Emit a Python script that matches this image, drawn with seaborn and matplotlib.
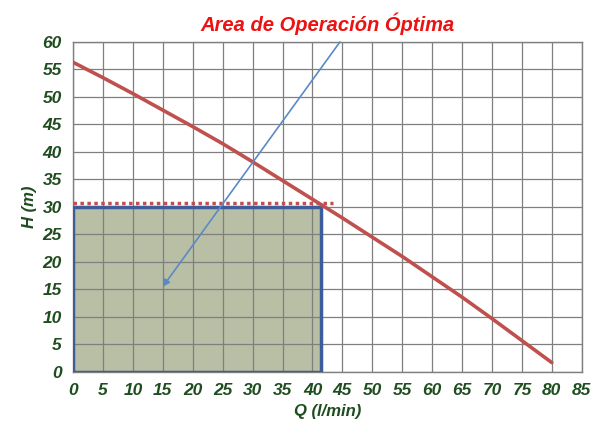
import numpy as np
import pandas as pd
import matplotlib
matplotlib.use("Agg")
import matplotlib.pyplot as plt
import seaborn as sns

# -------------------------
# Data
# -------------------------
q_curve = [0, 5, 10, 15, 20, 25, 30, 35, 40, 45, 50, 55, 60, 65, 70, 75, 80]
h_curve = [56.3, 53.5, 50.6, 47.6, 44.6, 41.5, 38.2, 34.8, 31.4, 28.0, 24.5, 21.0, 17.3, 13.6, 9.7, 5.7, 1.7]

q_op = 41.5          # optimum flow
h_op = 30.0          # optimum head
h_dotted = 30.8      # dotted reference level
q_dotted_end = 43.5

arrow_start = (44.6, 60.0)
arrow_end = (15.0, 15.5)

x_ticks = list(range(0, 90, 5))
y_ticks = list(range(0, 65, 5))

title = "Area de Operación Óptima"
x_label = "Q (l/min)"
y_label = "H (m)"

# -------------------------
# Style
# -------------------------
sns.set_style("white")
plt.rcParams["font.family"] = ["Liberation Sans", "DejaVu Sans"]

green = "#1f4d1f"
red_line = "#c0504d"

fig = plt.figure(figsize=(6.06, 4.32), dpi=100)
ax = fig.add_axes([0.1205, 0.139, 0.8395, 0.764])

# operating area
ax.fill_between([0, q_op], 0, h_op, color="#b9bfa5", zorder=1, linewidth=0)
ax.plot([0, 0, q_op, q_op, 0], [0, h_op, h_op, 0, 0],
        color="#3d5c9c", linewidth=2.5, zorder=4, solid_joinstyle="miter")

# grid on top of the fill
for xv in x_ticks:
    ax.axvline(xv, color="#7f7f7f", linewidth=0.9, zorder=2)
for yv in y_ticks:
    ax.axhline(yv, color="#7f7f7f", linewidth=0.9, zorder=2)

# pump curve
df = pd.DataFrame({"Q": q_curve, "H": h_curve})
sns.lineplot(data=df, x="Q", y="H", ax=ax, color=red_line, linewidth=2.6, zorder=5)

# dotted level
ax.plot([0, q_dotted_end], [h_dotted, h_dotted], color="#c0504d",
        linestyle=(0, (1, 1)), linewidth=2.5, zorder=5)

# arrow
ax.annotate("", xy=arrow_end, xytext=arrow_start,
            arrowprops=dict(arrowstyle="-|>", color="#5a8ac6", lw=1.2,
                            mutation_scale=10, shrinkA=0, shrinkB=0),
            zorder=6, annotation_clip=False)

ax.set_xlim(0, 85)
ax.set_ylim(0, 60)
ax.set_xticks(x_ticks)
ax.set_yticks(y_ticks)
ax.tick_params(length=0, pad=8, labelsize=12.5, labelcolor=green)
for lbl in ax.get_xticklabels() + ax.get_yticklabels():
    lbl.set_fontweight("bold")
    lbl.set_fontstyle("italic")

for sp in ax.spines.values():
    sp.set_color("#7f7f7f")
    sp.set_linewidth(1.0)

ax.set_xlabel(x_label, fontsize=12, fontweight="bold", fontstyle="italic",
              color=green, labelpad=4)
ax.set_ylabel(y_label, fontsize=12, fontweight="bold", fontstyle="italic",
              color=green, labelpad=4)
ax.set_title(title, fontsize=14.5, fontweight="bold", fontstyle="italic",
             color="#ee1111", pad=8)

fig.savefig("out.png", dpi=100)
plt.close(fig)
